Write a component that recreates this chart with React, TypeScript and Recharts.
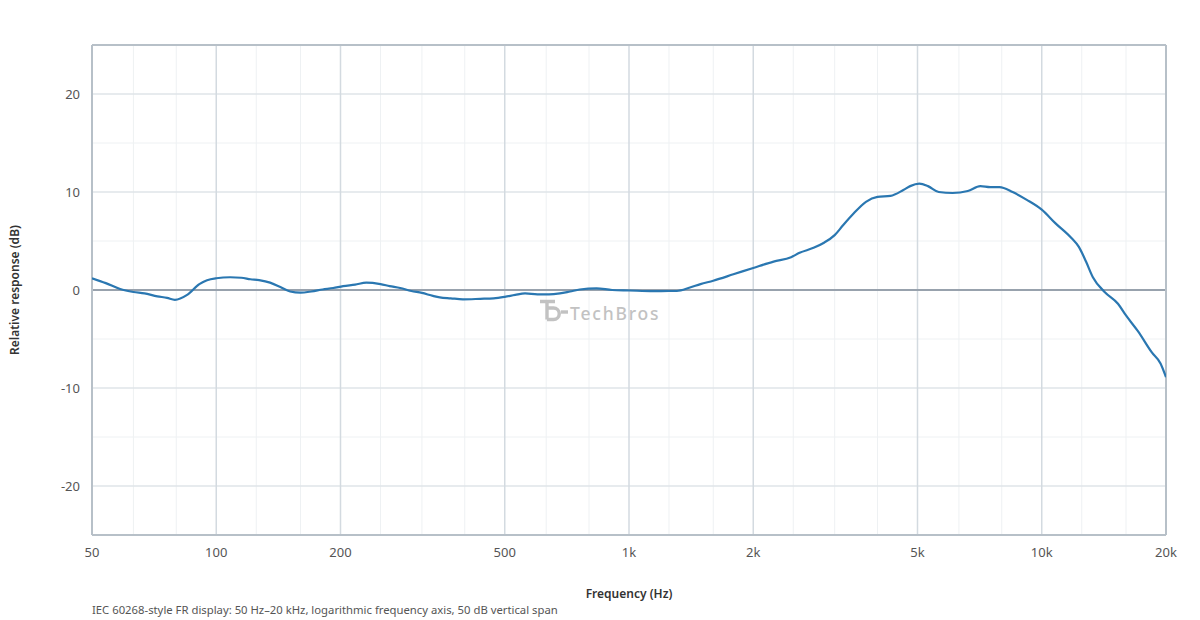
import { LineChart, Line, XAxis, YAxis, ReferenceLine } from 'recharts';

const freqs = [
  50, 54, 58.5, 63, 67, 72, 76, 79.4, 85, 91, 95, 100, 108, 115, 121, 127, 135, 143, 151, 160,
  170, 181, 192, 203, 217, 231, 250, 263, 279, 297, 315, 335, 348, 370, 396, 436, 470, 500, 530,
  560, 600, 640, 680, 720, 760, 834, 910, 1000, 1146, 1250, 1306, 1405, 1490, 1600, 1790, 2000,
  2240, 2470, 2590, 2800, 2960, 3150, 3300, 3500, 3750, 4000, 4300, 4620, 4800, 5050, 5300, 5630,
  6080, 6620, 7100, 7500, 7900, 8500, 9200, 10000, 10800, 11800, 12300, 12800, 13300, 14200,
  15300, 16000, 17100, 18500, 19400, 20000,
];

const response = [
  1.2, 0.7, 0.1, -0.2, -0.35, -0.65, -0.8, -1.0, -0.5, 0.6, 1.0, 1.2, 1.3, 1.25, 1.1, 1.0, 0.75,
  0.3, -0.15, -0.27, -0.15, 0.05, 0.2, 0.4, 0.55, 0.75, 0.6, 0.4, 0.2, -0.1, -0.3, -0.6, -0.75,
  -0.85, -0.95, -0.9, -0.85, -0.7, -0.5, -0.35, -0.45, -0.45, -0.35, -0.15, 0.05, 0.17, 0.0,
  -0.05, -0.12, -0.1, -0.1, 0.25, 0.6, 0.95, 1.6, 2.25, 2.9, 3.35, 3.8, 4.3, 4.8, 5.6, 6.6, 7.8,
  9.0, 9.5, 9.6, 10.2, 10.6, 10.85, 10.6, 10.0, 9.9, 10.1, 10.6, 10.5, 10.5, 10.0, 9.2, 8.2, 6.8,
  5.3, 4.4, 2.9, 1.3, -0.2, -1.4, -2.6, -4.2, -6.4, -7.5, -8.9,
];

const freqTicks = [50, 100, 200, 500, 1000, 2000, 5000, 10000, 20000];
const dbTicks = [-20, -10, 0, 10, 20];
const majorFreqLines = [100, 200, 500, 1000, 2000, 5000, 10000];
const minorFreqLines = [63, 80, 125, 160, 250, 315, 400, 630, 800, 1250, 1600, 2500, 3150, 4000, 6300, 8000, 12500, 16000];
const majorDbLines = [-20, -10, 10, 20];
const minorDbLines = [-15, -5, 5, 15];

const data = freqs.map((f, i) => ({ f, db: response[i] }));

const font = '"Segoe UI", "Noto Sans", sans-serif';
const border = '#b7c0c8';
const wm = '#c2c2c2';

const fmtFreq = (v: number) => (v >= 1000 ? `${v / 1000}k` : `${v}`);

function Watermark() {
  return (
    <svg
      width={130}
      height={26}
      viewBox="0 0 130 26"
      style={{ position: 'absolute', left: 540, top: 298, pointerEvents: 'none' }}
    >
      <path d="M0 3.5 H15 M7 3.5 V21.5 M7 10 H13.5 a5.75 5.75 0 0 1 0 11.5 H7" fill="none" stroke={wm} strokeWidth={3.4} />
      <path d="M21 14 H28" stroke={wm} strokeWidth={3.4} />
      <text x={30} y={22} fill={wm} fontFamily='"Noto Sans", sans-serif' fontSize={17.5} fontWeight={500} letterSpacing={1.8}>
        TechBros
      </text>
    </svg>
  );
}

export default function App() {
  return (
    <div style={{ position: 'absolute', left: 0, top: 0, width: 1200, height: 620, background: '#fff', fontFamily: font }}>
      <LineChart width={1200} height={620} data={data} margin={{ top: 45, right: 34, bottom: 55, left: 0 }}>
        <XAxis
          dataKey="f"
          type="number"
          scale="log"
          domain={[50, 20000]}
          ticks={freqTicks}
          tickFormatter={fmtFreq}
          allowDataOverflow
          axisLine={false}
          tickLine={false}
          tickSize={0}
          tickMargin={13}
          height={30}
          tick={{ fill: '#555', fontSize: 13, fontFamily: font }}
        />
        <YAxis
          type="number"
          domain={[-25, 25]}
          ticks={dbTicks}
          allowDataOverflow
          axisLine={false}
          tickLine={false}
          tickSize={0}
          tickMargin={12}
          width={92}
          tick={{ fill: '#555', fontSize: 13, fontFamily: font }}
        />
        {minorDbLines.map((v) => (
          <ReferenceLine key={`hm${v}`} y={v} stroke="#eef1f3" strokeWidth={1} />
        ))}
        {minorFreqLines.map((v) => (
          <ReferenceLine key={`vm${v}`} x={v} stroke="#eef1f3" strokeWidth={1} />
        ))}
        {majorDbLines.map((v) => (
          <ReferenceLine key={`hM${v}`} y={v} stroke="#dfe4e8" strokeWidth={1.5} />
        ))}
        {majorFreqLines.map((v) => (
          <ReferenceLine key={`vM${v}`} x={v} stroke="#d3dae0" strokeWidth={1.5} />
        ))}
        <ReferenceLine y={0} stroke="#98a2ad" strokeWidth={2} />
        <ReferenceLine x={50} stroke={border} strokeWidth={2} />
        <ReferenceLine x={20000} stroke={border} strokeWidth={2} />
        <ReferenceLine y={25} stroke={border} strokeWidth={2} />
        <ReferenceLine y={-25} stroke={border} strokeWidth={2} />
        <Line
          type="monotone"
          dataKey="db"
          stroke="#2a77b1"
          strokeWidth={2.2}
          dot={false}
          activeDot={false}
          isAnimationActive={false}
        />
      </LineChart>
      <Watermark />
      <div
        style={{
          position: 'absolute',
          left: 14,
          top: 290,
          transform: 'translate(-50%, -50%) rotate(-90deg)',
          whiteSpace: 'nowrap',
          fontSize: 12,
          fontWeight: 600,
          color: '#333',
        }}
      >
        Relative response (dB)
      </div>
      <div
        style={{
          position: 'absolute',
          left: 629,
          top: 593,
          transform: 'translate(-50%, -50%)',
          whiteSpace: 'nowrap',
          fontSize: 12,
          fontWeight: 600,
          color: '#333',
        }}
      >
        Frequency (Hz)
      </div>
      <div
        style={{
          position: 'absolute',
          left: 92,
          top: 609,
          transform: 'translateY(-50%)',
          whiteSpace: 'nowrap',
          fontSize: 11.3,
          color: '#555',
        }}
      >
        IEC 60268-style FR display: 50 Hz–20 kHz, logarithmic frequency axis, 50 dB vertical span
      </div>
    </div>
  );
}
